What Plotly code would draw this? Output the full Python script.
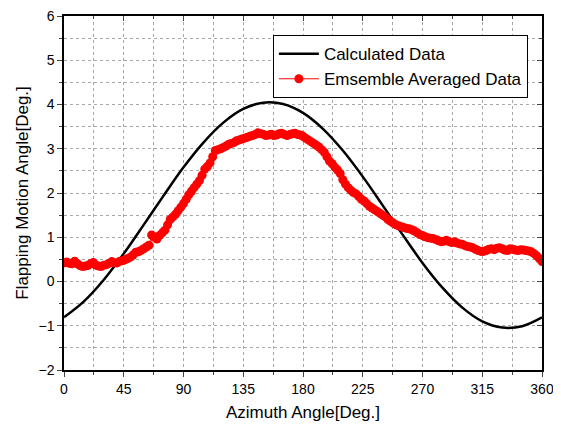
import plotly.graph_objects as go

# Calculated data (black curve), read every 15 deg
calc_azimuth = [0, 15, 30, 45, 60, 75, 90, 105, 120, 135, 150, 165, 180,
                195, 210, 225, 240, 255, 270, 285, 300, 315, 330, 345, 360]
calc_angle = [-0.81, -0.45, 0.04, 0.63, 1.28, 1.94, 2.58, 3.14, 3.59, 3.90, 4.04, 4.01, 3.81,
              3.45, 2.96, 2.37, 1.72, 1.06, 0.42, -0.14, -0.59, -0.90, -1.04, -1.01, -0.81]

# Ensemble averaged data (red dots), read every 2 deg
avg_azimuth = list(range(0, 361, 2))
avg_angle = [0.42, 0.44, 0.41, 0.40, 0.46, 0.40, 0.36, 0.34, 0.35, 0.36,   # 0-18
             0.40, 0.43, 0.37, 0.35, 0.34, 0.37, 0.38, 0.41, 0.45, 0.42,   # 20-38
             0.42, 0.46, 0.47, 0.49, 0.52, 0.55, 0.60, 0.66, 0.67, 0.70,   # 40-58
             0.74, 0.78, 0.82, 1.05, 1.00, 0.96, 1.04, 1.10, 1.16, 1.28,   # 60-78
             1.40, 1.46, 1.52, 1.60, 1.68, 1.76, 1.86, 1.96, 2.04, 2.12,   # 80-98
             2.20, 2.28, 2.40, 2.54, 2.60, 2.68, 2.82, 2.96, 2.98, 3.00,   # 100-118
             3.03, 3.06, 3.10, 3.12, 3.14, 3.18, 3.20, 3.22, 3.24, 3.26,   # 120-138
             3.28, 3.30, 3.32, 3.36, 3.34, 3.33, 3.30, 3.31, 3.33, 3.30,   # 140-158
             3.31, 3.34, 3.35, 3.32, 3.30, 3.32, 3.34, 3.35, 3.32, 3.31,   # 160-178
             3.28, 3.24, 3.20, 3.16, 3.12, 3.08, 3.04, 2.98, 2.92, 2.82,   # 180-198
             2.72, 2.66, 2.58, 2.52, 2.44, 2.30, 2.20, 2.12, 2.06, 2.01,   # 200-218
             1.98, 1.92, 1.86, 1.82, 1.76, 1.70, 1.66, 1.62, 1.58, 1.54,   # 220-238
             1.50, 1.46, 1.40, 1.36, 1.32, 1.28, 1.26, 1.24, 1.22, 1.20,   # 240-258
             1.19, 1.17, 1.14, 1.10, 1.06, 1.04, 1.01, 0.99, 0.98, 0.97,   # 260-278
             0.95, 0.92, 0.90, 0.91, 0.93, 0.90, 0.88, 0.90, 0.87, 0.85,   # 280-298
             0.84, 0.81, 0.79, 0.78, 0.76, 0.73, 0.70, 0.68, 0.68, 0.70,   # 300-318
             0.73, 0.74, 0.72, 0.75, 0.76, 0.74, 0.71, 0.70, 0.74, 0.73,   # 320-338
             0.71, 0.70, 0.72, 0.71, 0.70, 0.69, 0.67, 0.63, 0.58, 0.52,   # 340-358
             0.45]                                                         # 360

x_ticks = [0, 45, 90, 135, 180, 225, 270, 315, 360]
y_ticks = [-2, -1, 0, 1, 2, 3, 4, 5, 6]

FONT = "Liberation Sans, Arial, sans-serif"
GRID = "#a8a8a8"

fig = go.Figure()
fig.add_trace(go.Scatter(x=calc_azimuth, y=calc_angle, name="Calculated Data",
                         mode="lines", line=dict(color="black", width=2.5, shape="spline")))
fig.add_trace(go.Scatter(x=avg_azimuth, y=avg_angle, name="Emsemble Averaged Data",
                         mode="lines+markers", line=dict(color="red", width=1),
                         marker=dict(color="red", size=9)))
# invisible copy on mirror axes so the top/right inward ticks get drawn
fig.add_trace(go.Scatter(x=calc_azimuth, y=calc_angle, xaxis="x2", yaxis="y2",
                         mode="lines", opacity=0, showlegend=False, hoverinfo="skip"))

common = dict(showline=True, linecolor="black", linewidth=1.5, zeroline=False, automargin=False)

# page body adds an 8px offset, so the figure is 8px smaller and margins shifted
fig.update_layout(
    width=553, height=420,
    margin=dict(l=56, r=19, t=8, b=58),
    paper_bgcolor="white", plot_bgcolor="white",
    font=dict(family=FONT, color="black", size=14),
    showlegend=True,
    legend=dict(x=0.437, y=0.946, xanchor="left", yanchor="top",
                bgcolor="white", bordercolor="black", borderwidth=1,
                font=dict(size=17), itemwidth=40, tracegroupgap=0),
    xaxis=dict(range=[0, 360], tickvals=x_ticks, ticks="outside", ticklen=5, tickwidth=1,
               ticklabeloverflow="allow",
               showgrid=True, gridcolor=GRID, griddash="dot", gridwidth=1,
               minor=dict(dtick=22.5, tick0=0, ticks="outside", ticklen=3, showgrid=True,
                          gridcolor=GRID, griddash="dot"),
               title=dict(text="Azimuth Angle[Deg.]", font=dict(size=17), standoff=11),
               **common),
    yaxis=dict(range=[-2, 6], tickvals=y_ticks, ticks="outside", ticklen=5, tickwidth=1,
               ticklabeloverflow="allow",
               showgrid=True, gridcolor=GRID, griddash="dot", gridwidth=1,
               minor=dict(dtick=0.5, tick0=0, ticks="outside", ticklen=3, showgrid=True,
                          gridcolor=GRID, griddash="dot"),
               title=dict(text="Flapping Motion Angle[Deg.]", font=dict(size=17), standoff=6),
               **common),
    xaxis2=dict(range=[0, 360], overlaying="x", side="top", tickvals=x_ticks,
                ticks="inside", ticklen=5, showticklabels=False, showgrid=False,
                minor=dict(dtick=22.5, tick0=0, ticks="inside", ticklen=3),
                **common),
    yaxis2=dict(range=[-2, 6], overlaying="y", side="right", tickvals=y_ticks,
                ticks="inside", ticklen=5, showticklabels=False, showgrid=False,
                minor=dict(dtick=0.5, tick0=0, ticks="inside", ticklen=3),
                **common),
)

fig.write_html("out.html")
